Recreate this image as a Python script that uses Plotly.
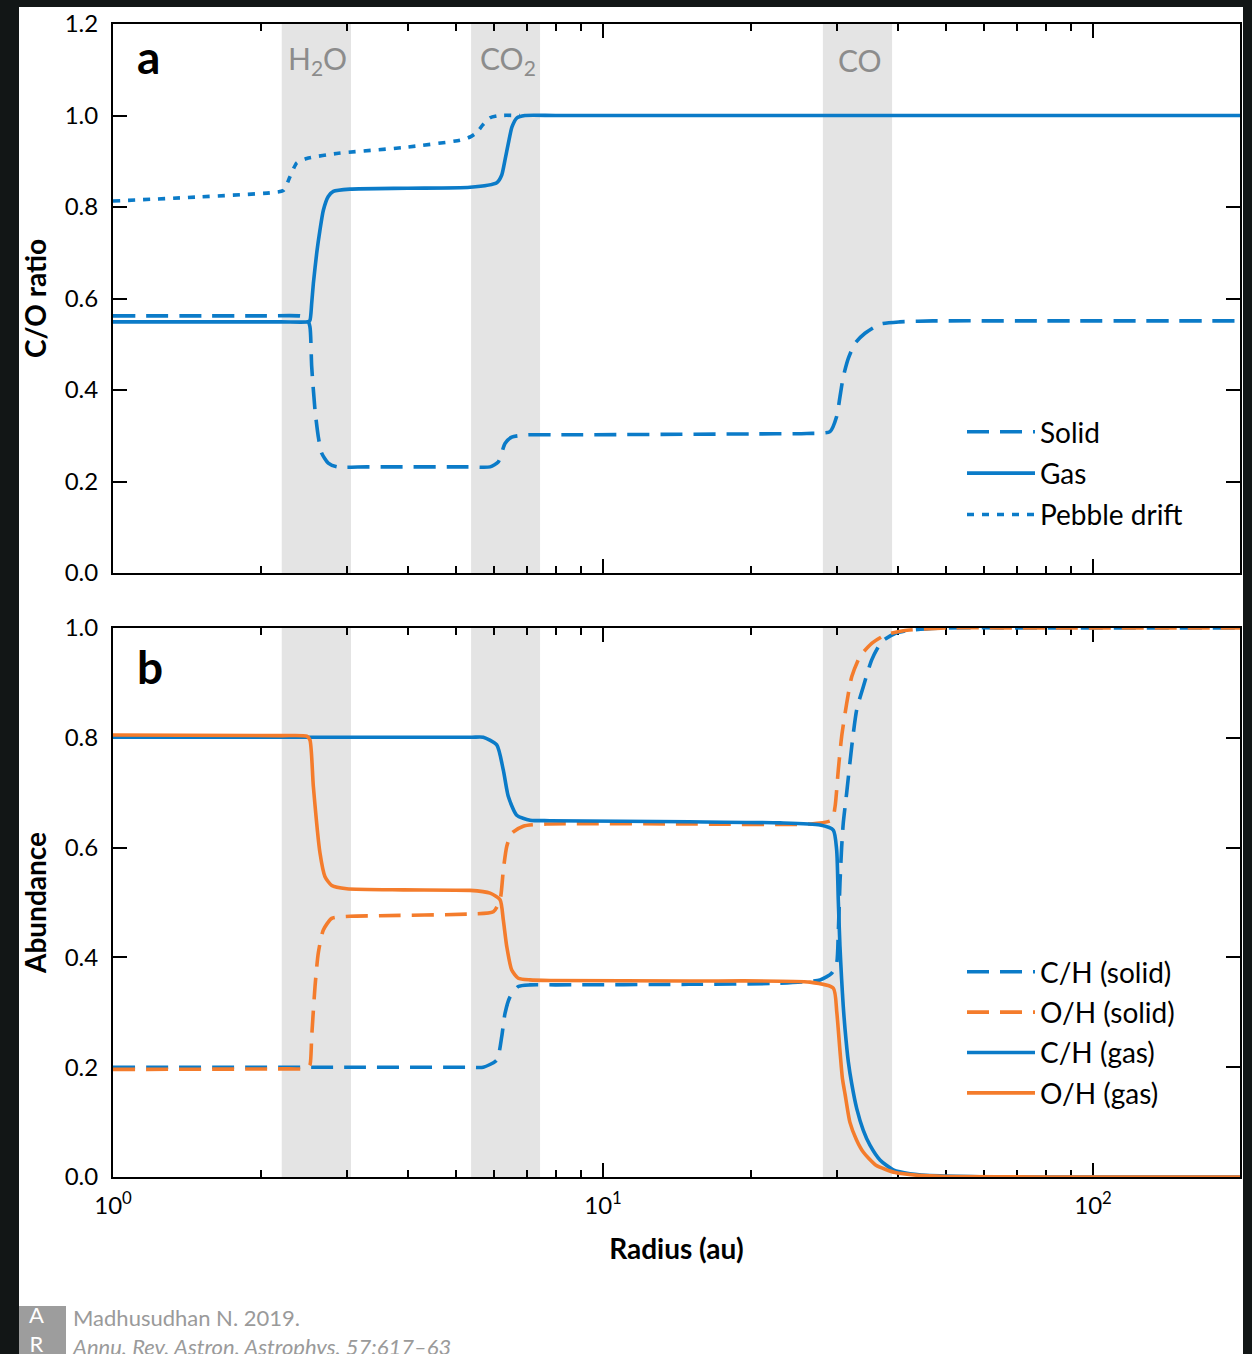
import math
import plotly.graph_objects as go

# ---------------- data ----------------
# freeze-out (snow line) zones, radius in au
band_names = ["H<sub>2</sub>O", "CO<sub>2</sub>", "CO"]
band_start = [2.21, 5.38, 28.1]
band_end = [3.06, 7.44, 38.9]
band_label_r = [2.62, 6.40, 33.5]

# panel a: C/O ratio
solid_r = [1, 2.0, 2.41, 2.485, 2.523, 2.544, 2.584, 2.624, 2.666, 2.750, 2.861, 3.3, 5.3, 5.882,
           6.116, 6.310, 6.512, 6.987, 8.0, 20.0, 26.05, 29.06, 29.98, 30.45, 30.93, 31.67,
           32.68, 34.25, 36.75, 40.38, 47.16, 80, 200]
solid_co = [0.562, 0.562, 0.562, 0.558, 0.538, 0.451, 0.356, 0.298, 0.262, 0.240, 0.232, 0.232,
            0.232, 0.232, 0.243, 0.283, 0.297, 0.302, 0.302, 0.304, 0.305, 0.309, 0.342, 0.385,
            0.429, 0.469, 0.502, 0.524, 0.544, 0.549, 0.551, 0.551, 0.551]

gas_r = [1, 2.2, 2.50, 2.523, 2.544, 2.564, 2.605, 2.645, 2.687, 2.750, 2.816, 3.046, 4.0, 5.354,
         6.070, 6.214, 6.310, 6.409, 6.520, 6.675, 6.931, 8.0, 20, 100, 200]
gas_co = [0.549, 0.549, 0.549, 0.552, 0.59, 0.633, 0.70, 0.750, 0.793, 0.823, 0.834, 0.839, 0.841,
          0.843, 0.853, 0.870, 0.903, 0.939, 0.975, 0.995, 1.0, 1.0, 1.0, 1.0, 1.0]

pebble_r = [1, 1.5, 2.091, 2.226, 2.297, 2.371, 2.485, 2.861, 3.912, 5.107, 5.354, 5.481, 5.558,
            5.690, 5.882, 6.165, 6.770]
pebble_co = [0.813, 0.822, 0.831, 0.836, 0.866, 0.896, 0.906, 0.917, 0.930, 0.946, 0.953, 0.960,
             0.966, 0.98, 0.995, 1.0, 1.0]

# panel b: abundances
ch_solid_r = [1, 3.0, 5.3, 5.697, 6.070, 6.214, 6.310, 6.460, 6.716, 7.096, 8.0, 15.0, 22.97,
              27.73, 29.29, 29.98, 30.21, 30.45, 30.69, 30.93, 31.43, 32.18, 32.94, 33.98, 35.35,
              37.05, 39.44, 42.32, 50, 80, 200]
ch_solid = [0.2, 0.2, 0.2, 0.2, 0.213, 0.256, 0.298, 0.328, 0.347, 0.350, 0.350, 0.351, 0.353,
            0.359, 0.371, 0.389, 0.444, 0.535, 0.60, 0.645, 0.70, 0.784, 0.851, 0.893, 0.942,
            0.975, 0.990, 0.996, 1.0, 1.0, 1.0]

oh_solid_r = [1, 2.2, 2.485, 2.523, 2.544, 2.584, 2.624, 2.687, 2.795, 3.046, 3.5, 5.354, 5.973,
              6.165, 6.260, 6.361, 6.512, 6.875, 7.675, 15.0, 26.45, 29.29, 29.75, 30.21, 30.69,
              31.43, 32.18, 33.45, 35.35, 37.63, 41.02, 50, 80, 200]
oh_solid = [0.196, 0.197, 0.198, 0.204, 0.256, 0.347, 0.408, 0.450, 0.471, 0.475, 0.476, 0.479,
            0.483, 0.505, 0.559, 0.602, 0.626, 0.639, 0.643, 0.643, 0.643, 0.650, 0.674, 0.741,
            0.802, 0.863, 0.911, 0.948, 0.972, 0.987, 0.995, 1.0, 1.0, 1.0]

ch_gas_r = [1, 3.0, 5.4, 5.697, 6.070, 6.260, 6.409, 6.666, 7.096, 7.795, 15.0, 22.97, 27.73,
            29.51, 29.98, 30.21, 30.45, 30.69, 30.93, 31.18, 31.67, 32.18, 32.94, 33.98, 35.06,
            36.75, 39.12, 42.32, 48.74, 64.6, 100, 200]
ch_gas = [0.801, 0.801, 0.801, 0.801, 0.787, 0.741, 0.693, 0.659, 0.650, 0.649, 0.647, 0.645,
          0.641, 0.632, 0.596, 0.505, 0.42, 0.36, 0.31, 0.27, 0.21, 0.17, 0.125, 0.085, 0.058,
          0.031, 0.013, 0.006, 0.002, 0.0, 0.0, 0.0]

oh_gas_r = [1, 2.2, 2.485, 2.523, 2.564, 2.645, 2.708, 2.795, 2.999, 3.912, 5.354, 5.882, 6.165,
            6.260, 6.361, 6.512, 6.716, 7.096, 7.795, 15.0, 26.45, 29.51, 30.0, 30.45, 30.8, 31.2,
            31.9, 32.9, 34.0, 36.0, 39.5, 44.0, 50.0, 80, 200]
oh_gas = [0.805, 0.804, 0.803, 0.796, 0.711, 0.590, 0.547, 0.531, 0.525, 0.523, 0.522, 0.517,
          0.505, 0.468, 0.420, 0.377, 0.362, 0.359, 0.358, 0.357, 0.355, 0.344, 0.30, 0.23, 0.18,
          0.15, 0.10, 0.068, 0.045, 0.022, 0.008, 0.003, 0.001, 0.0, 0.0]

x_tickvals = [1, 10, 100]
x_ticktext = ["10<sup>0</sup>", "10<sup>1</sup>", "10<sup>2</sup>"]
x_minor = [2, 3, 4, 5, 6, 7, 8, 9, 20, 30, 40, 50, 60, 70, 80, 90, 200]

# ---------------- layout geometry ----------------
W, H = 1252, 1354
L, R, T, B = 113, 12, 24, 177
PW, PH = W - L - R, H - T - B


def px(x):
    return (x - L) / PW


def py(y):
    return (H - B - y) / PH


BLUE = "#0b7bc8"
ORANGE = "#f47c2c"
FONT = "Lato"
DASH = "22px,11px"
DOT = "7px,8px"
LW = 3.6
SM = 0.6


def ln(color, dash=None):
    d = dict(color=color, width=LW, shape="spline", smoothing=SM)
    if dash:
        d["dash"] = dash
    return d


fig = go.Figure()

# panel a (x2, y2)
fig.add_trace(go.Scatter(x=pebble_r, y=pebble_co, mode="lines", name="Pebble drift",
                         line=ln(BLUE, DOT), xaxis="x2", yaxis="y2",
                         legend="legend", legendrank=3, legendgroup="a3"))
fig.add_trace(go.Scatter(x=solid_r, y=solid_co, mode="lines", name="Solid",
                         line=ln(BLUE, DASH), xaxis="x2", yaxis="y2",
                         legend="legend", legendrank=1, legendgroup="a1"))
fig.add_trace(go.Scatter(x=gas_r, y=gas_co, mode="lines", name="Gas",
                         line=ln(BLUE), xaxis="x2", yaxis="y2",
                         legend="legend", legendrank=2, legendgroup="a2"))

# panel b (x, y)
fig.add_trace(go.Scatter(x=ch_solid_r, y=ch_solid, mode="lines", name="C/H (solid)",
                         line=ln(BLUE, DASH), legend="legend2", legendrank=1, legendgroup="b1"))
fig.add_trace(go.Scatter(x=oh_solid_r, y=oh_solid, mode="lines", name="O/H (solid)",
                         line=ln(ORANGE, DASH), legend="legend2", legendrank=2, legendgroup="b2"))
fig.add_trace(go.Scatter(x=ch_gas_r, y=ch_gas, mode="lines", name="C/H (gas)",
                         line=ln(BLUE), legend="legend2", legendrank=3, legendgroup="b3"))
fig.add_trace(go.Scatter(x=oh_gas_r, y=oh_gas, mode="lines", name="O/H (gas)",
                         line=ln(ORANGE), legend="legend2", legendrank=4, legendgroup="b4"))

shapes = []
annotations = []
for name, x0, x1, xl in zip(band_names, band_start, band_end, band_label_r):
    for xr, yr in [("x", "y domain"), ("x2", "y2 domain")]:
        shapes.append(dict(type="rect", xref=xr, yref=yr, x0=x0, x1=x1, y0=0, y1=1,
                           fillcolor="#e4e4e4", line=dict(width=0), layer="below"))
    annotations.append(dict(text=name, xref="x2", yref="paper", x=math.log10(xl), y=py(60),
                            xanchor="center", yanchor="middle", showarrow=False,
                            font=dict(family=FONT, size=30, color="#8c8c8c")))

# panel letters
annotations.append(dict(text="<b>a</b>", xref="paper", yref="paper", x=px(148), y=py(57),
                        xanchor="center", yanchor="middle", showarrow=False,
                        font=dict(family=FONT, size=46, color="black")))
annotations.append(dict(text="<b>b</b>", xref="paper", yref="paper", x=px(150), y=py(666),
                        xanchor="center", yanchor="middle", showarrow=False,
                        font=dict(family=FONT, size=46, color="black")))

# citation (two lines, one text block)
annotations.append(dict(text="Madhusudhan N. 2019.<br><i>Annu. Rev. Astron. Astrophys. 57:617–63</i>",
                        xref="paper", yref="paper", x=px(70), y=py(1302), xanchor="left",
                        yanchor="top", align="left", showarrow=False,
                        font=dict(family=FONT, size=22, color="#9a9a9a")))
# AR logo
shapes.append(dict(type="rect", xref="paper", yref="paper", x0=px(19), x1=px(66), y0=py(1360),
                   y1=py(1306), fillcolor="#9d9d9d", line=dict(width=0), layer="above"))
annotations.append(dict(text="A<br>R", xref="paper", yref="paper", x=px(36), y=py(1329),
                        xanchor="center", yanchor="middle", align="center", showarrow=False,
                        font=dict(family=FONT, size=22, color="white")))

# dark frame
DARK = "#121616"
shapes.append(dict(type="rect", xref="paper", yref="paper", x0=px(-5), x1=px(19), y0=py(1400),
                   y1=py(-5), fillcolor=DARK, line=dict(width=0), layer="above"))
shapes.append(dict(type="rect", xref="paper", yref="paper", x0=px(-5), x1=px(1260), y0=py(7),
                   y1=py(-5), fillcolor=DARK, line=dict(width=0), layer="above"))
shapes.append(dict(type="rect", xref="paper", yref="paper", x0=px(1243), x1=px(1260), y0=py(1400),
                   y1=py(-5), fillcolor=DARK, line=dict(width=0), layer="above"))

axis_common = dict(showline=True, linecolor="black", linewidth=2, mirror="ticks",
                   ticks="inside", tickcolor="black", tickwidth=1.5, showgrid=False,
                   zeroline=False, layer="below traces")
xcommon = dict(axis_common, type="log", range=[0, 2.3], tickmode="array", tickvals=x_tickvals,
               ticktext=x_ticktext, ticklen=14,
               minor=dict(tickmode="array", tickvals=x_minor, ticks="inside", ticklen=7,
                          tickwidth=1.5, tickcolor="black", showgrid=False))

fig.update_layout(
    width=W, height=H, margin=dict(l=L, r=R, t=T, b=B, autoexpand=False),
    paper_bgcolor="white", plot_bgcolor="white",
    font=dict(family=FONT, size=24, color="black"),
    xaxis=dict(xcommon, domain=[0, 1], anchor="y",
               tickfont=dict(family=FONT, size=24), ticklabelstandoff=6,
               title=dict(text="Radius (au)", font=dict(family=FONT, size=28, weight="bold"),
                          standoff=22)),
    yaxis=dict(axis_common, domain=[0, 549 / PH], range=[0, 1.0], dtick=0.2, tickformat=".1f",
               ticklen=14, anchor="x", ticklabelstandoff=8,
               title=dict(text="Abundance", font=dict(family=FONT, size=28, weight="bold"),
                          standoff=10)),
    xaxis2=dict(xcommon, domain=[0, 1], anchor="y2", matches="x", showticklabels=False),
    yaxis2=dict(axis_common, domain=[1 - 549 / PH, 1], range=[0, 1.2], dtick=0.2,
                tickformat=".1f", ticklen=14, anchor="x2", ticklabelstandoff=8,
                title=dict(text="C/O ratio", font=dict(family=FONT, size=28, weight="bold"),
                           standoff=10)),
    legend=dict(x=px(962), y=py(407), xanchor="left", yanchor="top", bgcolor="rgba(0,0,0,0)",
                font=dict(family=FONT, size=28), itemwidth=68, tracegroupgap=2),
    legend2=dict(x=px(962), y=py(947), xanchor="left", yanchor="top", bgcolor="rgba(0,0,0,0)",
                 font=dict(family=FONT, size=28), itemwidth=68, tracegroupgap=1),
    shapes=shapes, annotations=annotations, showlegend=True,
)

fig.write_html("out.html")
